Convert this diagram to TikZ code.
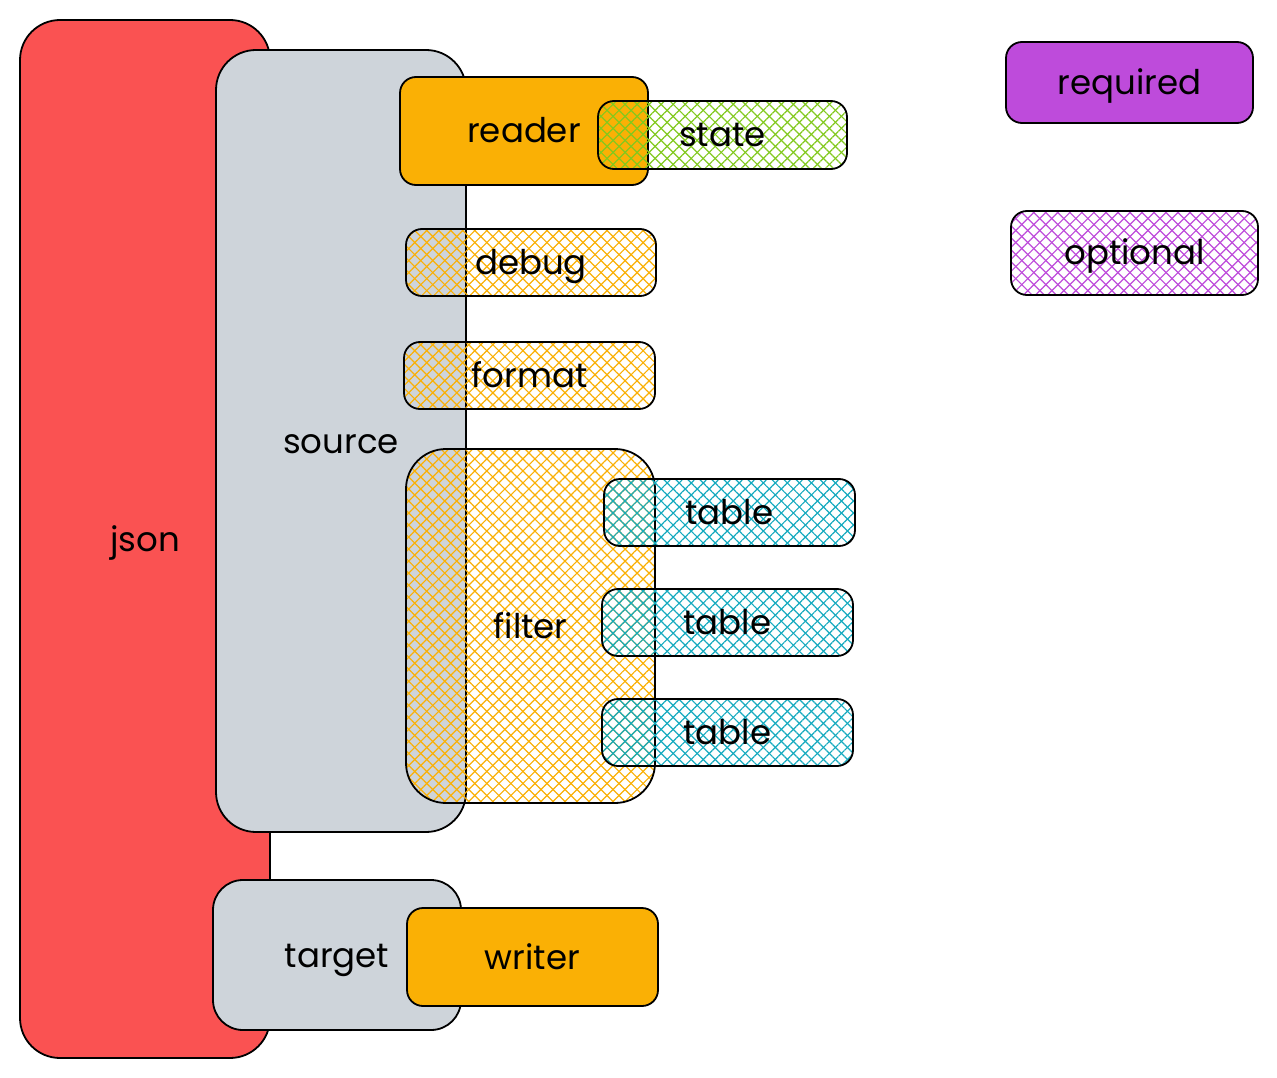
\documentclass[tikz,border=0pt]{standalone}
\usepackage{fontspec}
\setmainfont{Poppins}
\usetikzlibrary{patterns.meta}
\definecolor{cred}{HTML}{FA5252}
\definecolor{cgray}{HTML}{CED4DA}
\definecolor{corange}{HTML}{FAB005}
\definecolor{cgreen}{HTML}{82C91E}
\definecolor{cblue}{HTML}{15AABF}
\definecolor{cpurple}{HTML}{BE4BDB}
\tikzset{
  box/.style={draw=black, line width=1.8pt, rounded corners=16pt, inner sep=0pt,
    font=\fontsize{34}{38}\selectfont, text=black, text height=24pt, text depth=0pt},
  bigbox/.style={box, rounded corners=40pt},
  solid fill/.style={fill=#1},
  hatch/.style={preaction={pattern={Lines[angle=45,distance=8.5pt,line width=1.2pt]}, pattern color=#1},
    pattern={Lines[angle=-45,distance=8.5pt,line width=1.2pt]}, pattern color=#1},
}
\begin{document}
\begin{tikzpicture}[x=1pt,y=-1pt]
\useasboundingbox[fill=white] (0,0) rectangle (1277,1078);
% json
\node[bigbox, solid fill=cred, minimum width=250pt, minimum height=1038pt] (json) at (145,539) {json};
% source
\node[bigbox, solid fill=cgray, minimum width=250pt, minimum height=782pt] (source) at (341,441) {source};
% reader and state
\node[box, solid fill=corange, minimum width=248pt, minimum height=108pt] (reader) at (524,131) {reader};
\node[box, hatch=cgreen, minimum width=249pt, minimum height=68pt] (state) at (722.5,135) {state};
% debug, format
\node[box, hatch=corange, minimum width=250pt, minimum height=67pt] (debug) at (531,262.5) {debug};
\node[box, hatch=corange, minimum width=251pt, minimum height=67pt] (format) at (529.5,375.5) {format};
% filter and tables
\node[bigbox, hatch=corange, minimum width=249pt, minimum height=354pt] (filter) at (530.5,626) {filter};
\node[box, hatch=cblue, minimum width=251pt, minimum height=67pt] (table1) at (729.5,512.5) {table};
\node[box, hatch=cblue, minimum width=251pt, minimum height=67pt] (table2) at (727.5,622.5) {table};
\node[box, hatch=cblue, minimum width=251pt, minimum height=67pt] (table3) at (727.5,732.5) {table};
% target and writer
\node[box, rounded corners=30pt, solid fill=cgray, minimum width=248pt, minimum height=150pt] (target) at (337,955) {target};
\node[box, solid fill=corange, minimum width=251pt, minimum height=98pt] (writer) at (532.5,957) {writer};
% legend
\node[box, solid fill=cpurple, minimum width=247pt, minimum height=81pt] (required) at (1129.5,82.5) {required};
\node[box, hatch=cpurple, minimum width=247pt, minimum height=84pt] (optional) at (1134.5,253) {optional};
\end{tikzpicture}
\end{document}
